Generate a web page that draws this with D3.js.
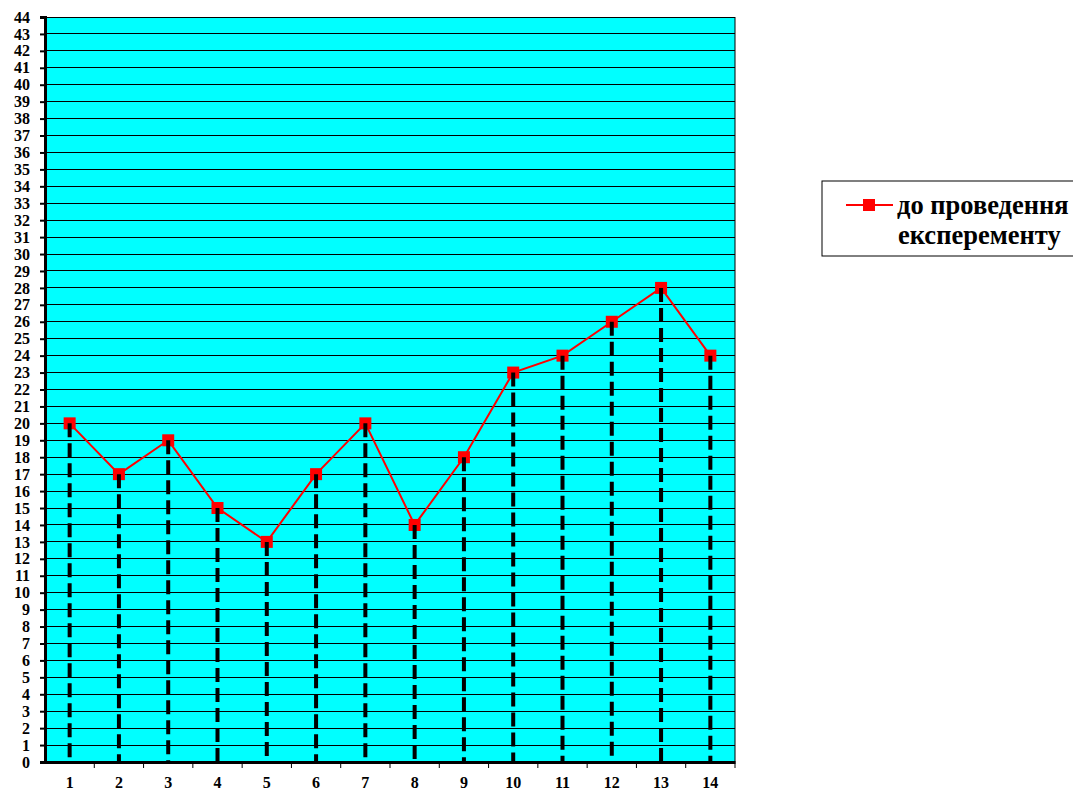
<!DOCTYPE html>
<html><head><meta charset="utf-8">
<script src="https://cdn.jsdelivr.net/npm/d3@7"></script>
<style>body{margin:0;background:#fff}svg{display:block}
text{font-family:'Liberation Serif','Times New Roman',serif !important;font-weight:bold}</style>
</head><body>
<script>
const categories = ["1","2","3","4","5","6","7","8","9","10","11","12","13","14"];
const values = [20,17,19,15,13,17,20,14,18,23,24,26,28,24];
const yTicks = d3.range(0,45);
const seriesName = ["до проведення", "експеременту"];

const W=1073,H=791;
const L=45,R=735,T=17,B=762;
const svg=d3.select("body").append("svg").attr("width",W).attr("height",H);
const x=d3.scaleBand().domain(categories).range([L,R]).padding(0);
const y=d3.scaleLinear().domain([0,44]).range([B,T]);

svg.append("rect").attr("x",L).attr("y",T).attr("width",R-L).attr("height",B-T).attr("fill","#00FFFF");
// gridlines
svg.append("g").selectAll("line").data(yTicks.filter(d=>d>0)).join("line")
  .attr("x1",L).attr("x2",R).attr("y1",d=>y(d)).attr("y2",d=>y(d))
  .attr("stroke","#000").attr("stroke-width",1).attr("shape-rendering","crispEdges");
// right border
svg.append("line").attr("x1",R).attr("x2",R).attr("y1",T).attr("y2",B).attr("stroke","#000").attr("stroke-width",1);

// y axis
const ya=svg.append("g").attr("transform",`translate(${L},0)`)
  .call(d3.axisLeft(y).tickValues(yTicks).tickSize(5).tickPadding(10));
ya.select(".domain").attr("stroke-width",3);
ya.selectAll(".tick line").attr("stroke-width",2);
ya.selectAll("text").attr("font-size",16).attr("fill","#000");

// x axis
const xa=svg.append("g").attr("transform",`translate(0,${B})`)
  .call(d3.axisBottom(x).tickSize(0).tickPadding(15));
xa.select(".domain").attr("stroke-width",3);
xa.selectAll("text").attr("font-size",16).attr("fill","#000");
// x ticks at band boundaries
svg.append("g").selectAll("line").data(categories.slice(1).concat(["end"])).join("line")
  .attr("x1",(d,i)=>i<categories.length-1?x(d):R).attr("x2",(d,i)=>i<categories.length-1?x(d):R)
  .attr("y1",B).attr("y2",B+6).attr("stroke","#000").attr("stroke-width",1);

const cx=d=>x(d)+x.bandwidth()/2;
const data=categories.map((c,i)=>({c,v:values[i]}));
// line
svg.append("path").datum(data).attr("fill","none").attr("stroke","#FF0000").attr("stroke-width",2)
  .attr("d",d3.line().x(d=>cx(d.c)).y(d=>y(d.v)));
// markers
svg.append("g").selectAll("rect").data(data).join("rect")
  .attr("x",d=>cx(d.c)-6).attr("y",d=>y(d.v)-6).attr("width",12).attr("height",12).attr("fill","#FF0000");
// drop lines
svg.append("g").selectAll("line").data(data).join("line")
  .attr("x1",d=>cx(d.c)).attr("x2",d=>cx(d.c)).attr("y1",d=>y(d.v)).attr("y2",B)
  .attr("stroke","#000").attr("stroke-width",4).attr("stroke-dasharray","14,6");

// legend
const lg=svg.append("g");
lg.append("rect").attr("x",822).attr("y",181).attr("width",260).attr("height",75).attr("fill","#fff").attr("stroke","#000").attr("stroke-width",1);
lg.append("line").attr("x1",846).attr("x2",893).attr("y1",205).attr("y2",205).attr("stroke","#FF0000").attr("stroke-width",2);
lg.append("rect").attr("x",863).attr("y",199).attr("width",12).attr("height",12).attr("fill","#FF0000");
lg.append("text").attr("x",897).attr("y",214).text(seriesName[0]).attr("font-size",26.5).attr("fill","#000");
lg.append("text").attr("x",898).attr("y",244).text(seriesName[1]).attr("font-size",26.5).attr("fill","#000");
</script>
</body></html>
